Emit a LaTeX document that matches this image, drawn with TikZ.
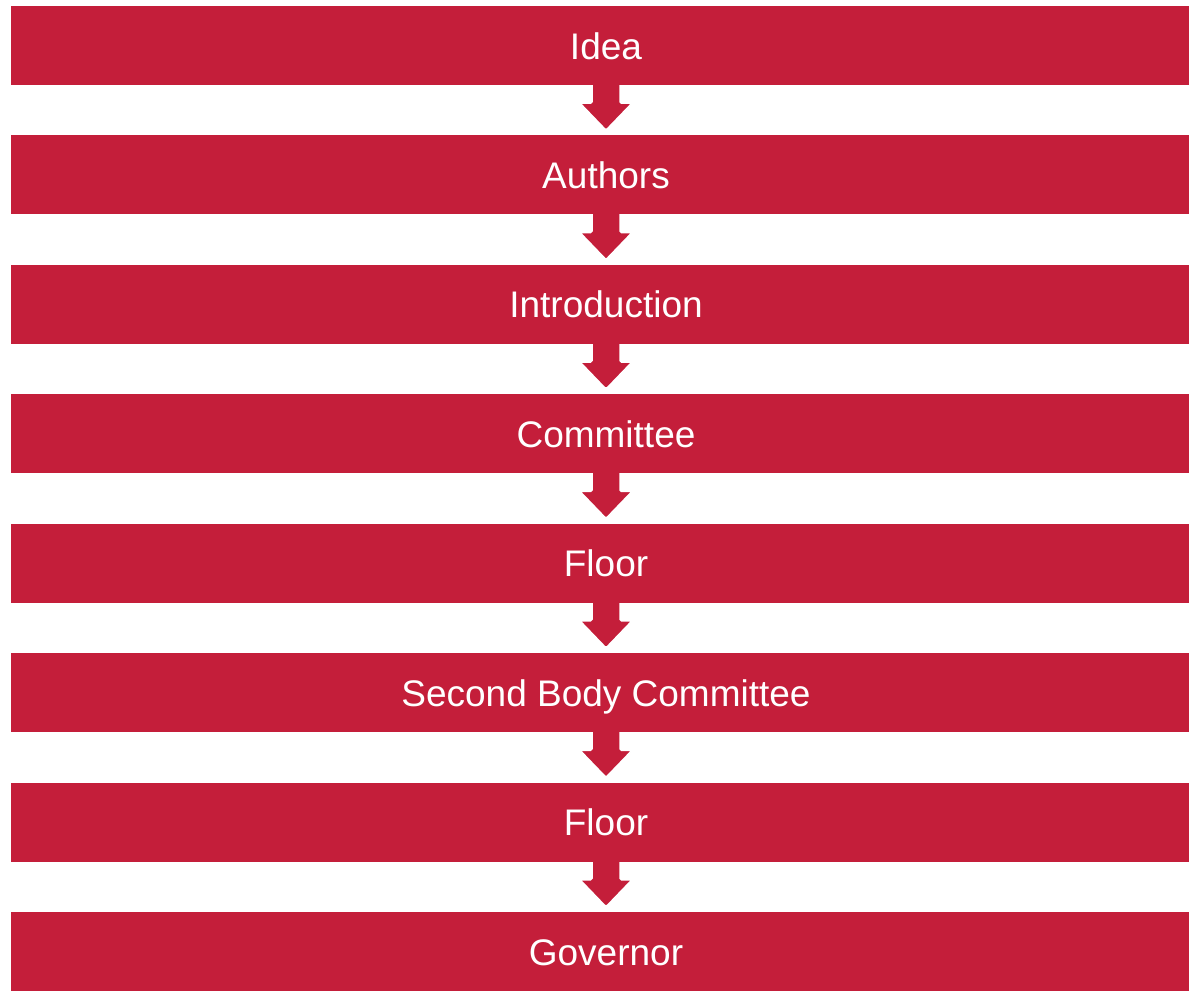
\documentclass[tikz,border=0pt]{standalone}
\usepackage{fontspec}
\setmainfont{Liberation Sans}
\usetikzlibrary{backgrounds}
\definecolor{boxred}{RGB}{196,30,58}
\tikzset{
  stagebox/.style={fill=boxred, draw=none, minimum width=1190pt, minimum height=79pt,
    inner sep=0pt, text=white, font=\fontsize{37}{44}\selectfont,
    text height=27pt, text depth=0pt},
  downarrow/.style={fill=boxred, draw=white, line width=1.5pt, rounded corners=1.5pt}
}
\begin{document}
\begin{tikzpicture}[x=1pt,y=1pt]
\useasboundingbox (0,0) rectangle (1189,-991);
\clip (0,0) rectangle (1189,-991);
\foreach \t [count=\i from 0] in {Idea,Authors,Introduction,Committee,Floor,Second Body Committee,Floor,Governor}{
  \node[stagebox] (b\i) at (606,{-(45.5+129.43*\i)}) {\t};
}
\begin{scope}[on background layer]
\foreach \i in {0,...,6}{
  \draw[downarrow] ([xshift=-14pt,yshift=6pt]b\i.south) -- ++(0,-24) -- ++(-12,0)
    -- ++(26,-27) -- ++(26,27) -- ++(-12,0) -- ++(0,24) -- cycle;
}
\end{scope}
\end{tikzpicture}
\end{document}
